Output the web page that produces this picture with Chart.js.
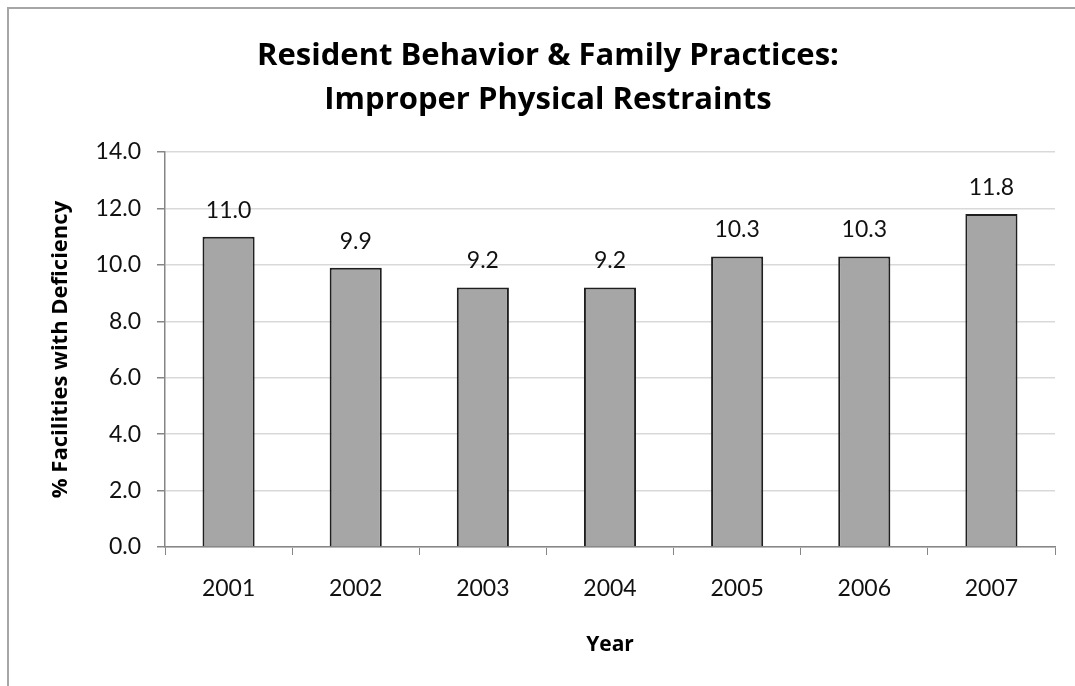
<!DOCTYPE html>
<html>
<head>
<meta charset="utf-8">
<script src="https://cdn.jsdelivr.net/npm/chart.js@4.4.1/dist/chart.umd.min.js"></script>
<style>
  html, body { margin: 0; padding: 0; background: #fff; overflow: hidden; }
  #wrap { position: relative; width: 1075px; height: 686px; }
  #frame { position: absolute; left: 7px; top: 7px; width: 1100px; height: 700px; border: 2px solid #a6a6a6; box-sizing: border-box; }
  #chart { position: absolute; left: 0; top: 0; }
</style>
</head>
<body>
<div id="wrap">
  <div id="frame"></div>
  <canvas id="chart" width="1075" height="686"></canvas>
</div>
<script>
// Datos del gráfico
const years = ['2001', '2002', '2003', '2004', '2005', '2006', '2007'];
const pctDeficiency = [11.0, 9.9, 9.2, 9.2, 10.3, 10.3, 11.8];
const titleLines = ['Resident Behavior & Family Practices:', 'Improper Physical Restraints'];
const yAxisTitle = '% Facilities with Deficiency';
const xAxisTitle = 'Year';

const FONT = "Lato, 'Open Sans', sans-serif";
const BOLD_FONT = "'Open Sans', Lato, sans-serif";
const AXIS_GRAY = '#868686';

// Etiquetas de valor encima de cada barra
const barLabels = {
    id: 'barLabels',
    afterDatasetsDraw(chart) {
        const ctx = chart.ctx;
        const meta = chart.getDatasetMeta(0);
        ctx.save();
        ctx.font = '23px ' + FONT;
        ctx.fillStyle = '#111';
        ctx.textAlign = 'center';
        ctx.textBaseline = 'alphabetic';
        meta.data.forEach((bar, i) => {
            ctx.fillText(pctDeficiency[i].toFixed(1), bar.x, bar.y - 19);
        });
        ctx.restore();
    }
};

const chart = new Chart(document.getElementById('chart'), {
    type: 'bar',
    data: {
        labels: years,
        datasets: [{
            data: pctDeficiency,
            backgroundColor: '#a6a6a6',
            borderColor: '#1f1f1f',
            borderWidth: 2,
            categoryPercentage: 1.0,
            barPercentage: 0.41
        }]
    },
    options: {
        responsive: false,
        devicePixelRatio: 1,
        animation: false,
        layout: { padding: { left: 41, right: 20, top: 0, bottom: 0 } },
        plugins: {
            legend: { display: false },
            tooltip: { enabled: false },
            title: {
                display: true,
                text: titleLines,
                color: '#000',
                font: { family: BOLD_FONT, size: 31, weight: 'bold', lineHeight: 1.42 },
                padding: { top: 34, bottom: 30 }
            }
        },
        scales: {
            x: {
                offset: true,
                grid: {
                    offset: true,
                    drawOnChartArea: false,
                    drawTicks: true,
                    tickLength: 8,
                    tickColor: AXIS_GRAY
                },
                border: { color: AXIS_GRAY, width: 1.5 },
                ticks: {
                    color: '#111',
                    font: { family: FONT, size: 23 },
                    padding: 20,
                    maxRotation: 0,
                    autoSkip: false
                },
                title: {
                    display: true,
                    text: xAxisTitle,
                    color: '#000',
                    font: { family: BOLD_FONT, size: 21, weight: 'bold', lineHeight: 1.2 },
                    padding: { top: 0, bottom: 28 }
                },
                afterFit(scale) { scale.height = 139; }
            },
            y: {
                min: 0,
                max: 14,
                grid: {
                    color: '#d9d9d9',
                    lineWidth: 1.5,
                    tickLength: 8,
                    tickColor: AXIS_GRAY
                },
                border: { color: AXIS_GRAY, width: 1.5 },
                ticks: {
                    stepSize: 2,
                    color: '#111',
                    font: { family: FONT, size: 23 },
                    padding: 16,
                    callback: (v) => Number(v).toFixed(1)
                },
                title: {
                    display: true,
                    text: yAxisTitle,
                    color: '#000',
                    font: { family: BOLD_FONT, size: 22, weight: 'bold', lineHeight: 1.2 },
                    padding: { top: 7, bottom: 0 }
                },
                afterFit(scale) { scale.width = 124; }
            }
        }
    },
    plugins: [barLabels]
});
</script>
</body>
</html>
